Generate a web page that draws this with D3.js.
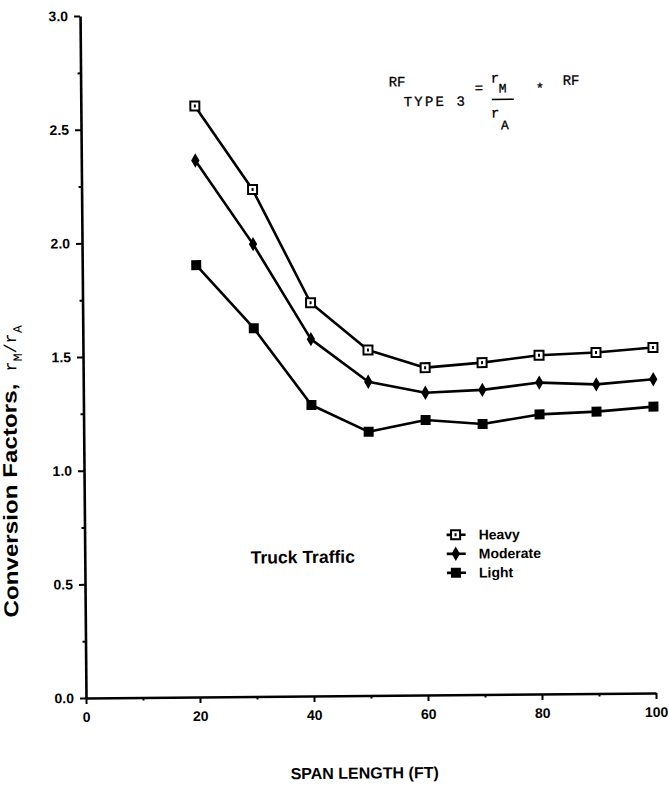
<!DOCTYPE html>
<html>
<head>
<meta charset="utf-8">
<script src="https://cdn.jsdelivr.net/npm/d3@7/dist/d3.min.js"></script>
<style>
  html, body { margin: 0; padding: 0; background: #fff; }
  svg { display: block; }
</style>
</head>
<body>
<svg id="chart" width="669" height="788"></svg>
<script>
// Span lengths (ft) and conversion factors rM/rA for each traffic level
const spans = [20, 30, 40, 50, 60, 70, 80, 90, 100];
const heavy = [2.60, 2.23, 1.73, 1.52, 1.44, 1.46, 1.49, 1.50, 1.52];
const moderate = [2.36, 1.99, 1.57, 1.38, 1.33, 1.34, 1.37, 1.36, 1.38];
const light = [1.90, 1.62, 1.28, 1.16, 1.21, 1.19, 1.23, 1.24, 1.26];

const seriesNames = ["Heavy", "Moderate", "Light"];
const xTicks = [0, 20, 40, 60, 80, 100];
const xMinorTicks = [10, 30, 50, 70, 90];
const yTicks = [0, 0.5, 1.0, 1.5, 2.0, 2.5, 3.0];
const yMinorTicks = [0.25, 0.75, 1.25, 1.75, 2.25, 2.75];

const sans = "Liberation Sans, Arial, sans-serif";
const mono = "Liberation Mono, Courier New, monospace";

const svg = d3.select("#chart");
const x = d3.scaleLinear().domain([0, 100]).range([86, 656]);
const y = d3.scaleLinear().domain([0, 3]).range([698, 16]);

// the whole plate sits at a slight tilt
const g = svg.append("g").attr("transform", "rotate(-0.5, 86, 698)");

// axes
g.append("g").attr("class", "axis").attr("transform", `translate(${x(0)},0)`)
  .call(d3.axisLeft(y).tickValues(yTicks).tickFormat(d3.format(".1f")).tickSize(6).tickSizeOuter(0).tickPadding(6));
g.append("g").attr("class", "axis minor").attr("transform", `translate(${x(0)},0)`)
  .call(d3.axisLeft(y).tickValues(yMinorTicks).tickFormat("").tickSize(3).tickSizeOuter(0));

g.append("g").attr("class", "axis").attr("transform", `translate(0,${y(0)})`)
  .call(d3.axisBottom(x).tickValues(xTicks).tickFormat(d3.format("d")).tickSize(6).tickSizeOuter(0).tickPadding(8));
g.append("g").attr("class", "axis minor").attr("transform", `translate(0,${y(0)})`)
  .call(d3.axisBottom(x).tickValues(xMinorTicks).tickFormat("").tickSize(3).tickSizeOuter(0));

g.selectAll(".minor .domain").remove();
g.selectAll(".axis .domain").attr("stroke", "#000").attr("stroke-width", 2.6);
g.selectAll(".axis .tick line").attr("stroke", "#000").attr("stroke-width", 2);
g.selectAll(".axis .tick text").attr("fill", "#000")
  .attr("font-family", sans).attr("font-weight", "bold").attr("font-size", 14);

// marker drawing
function drawMarker(sel, name) {
  if (name === "Heavy") {
    sel.append("rect").attr("x", -4.5).attr("y", -4.5).attr("width", 9).attr("height", 9)
      .attr("fill", "#fff").attr("stroke", "#000").attr("stroke-width", 2);
    sel.append("rect").attr("x", -1).attr("y", -1.5).attr("width", 2).attr("height", 3).attr("fill", "#000");
  } else if (name === "Moderate") {
    sel.append("path").attr("d", d3.symbol(d3.symbolDiamond, 60)()).attr("fill", "#000");
  } else {
    sel.append("rect").attr("x", -5).attr("y", -5).attr("width", 10).attr("height", 10).attr("fill", "#000");
  }
}

const seriesValues = { Heavy: heavy, Moderate: moderate, Light: light };
const line = d3.line().x(d => x(d[0])).y(d => y(d[1]));

seriesNames.forEach(name => {
  const pts = spans.map((s, i) => [s, seriesValues[name][i]]);
  g.append("path").datum(pts).attr("d", line)
    .attr("fill", "none").attr("stroke", "#000").attr("stroke-width", 2.6).attr("stroke-linejoin", "round");
  g.selectAll(null).data(pts).enter().append("g")
    .attr("transform", d => `translate(${x(d[0])},${y(d[1])})`)
    .each(function () { drawMarker(d3.select(this), name); });
});

// legend
const legendY = [538, 557, 576];
seriesNames.forEach((name, i) => {
  const lg = g.append("g").attr("transform", `translate(457,${legendY[i]})`);
  lg.append("line").attr("x1", -9).attr("x2", 10).attr("stroke", "#000").attr("stroke-width", 2.6);
  drawMarker(lg, name);
  lg.append("text").attr("x", 23).attr("dy", "0.35em")
    .attr("font-family", sans).attr("font-weight", "bold")
    .attr("font-size", 14).text(name);
});

// caption inside the plot
g.append("text").attr("x", 252).attr("y", 565)
  .attr("font-family", sans).attr("font-weight", "bold")
  .attr("font-size", 17.5).text("Truck Traffic");

// x axis title
g.append("text").attr("x", 364).attr("y", 781).attr("text-anchor", "middle")
  .attr("font-family", sans).attr("font-weight", "bold")
  .attr("font-size", 16).text("SPAN LENGTH (FT)");

// y axis title with rM/rA ratio
const yt = g.append("g").attr("transform", "translate(19,617) rotate(-90)");
yt.append("text").attr("font-family", sans).attr("font-weight", "bold").attr("font-size", 20)
  .attr("textLength", 234).attr("lengthAdjust", "spacingAndGlyphs").text("Conversion Factors,");
const ratio = yt.append("text").attr("x", 246).attr("font-family", mono).attr("font-size", 17);
ratio.append("tspan").text("r");
ratio.append("tspan").attr("dy", 6).attr("font-size", 13).text("M");
ratio.append("tspan").attr("dy", -6).text("/r");
ratio.append("tspan").attr("dy", 6).attr("font-size", 13).text("A");

// conversion formula
const fm = g.append("g").attr("font-family", mono).attr("font-size", 14).attr("fill", "#000")
  .attr("stroke", "#000").attr("stroke-width", 0.3);
fm.append("text").attr("x", 394).attr("y", 89).text("RF");
fm.append("text").attr("x", 409).attr("y", 109).attr("textLength", 61).attr("lengthAdjust", "spacing").text("TYPE 3");
fm.append("text").attr("x", 480).attr("y", 96).text("=");
fm.append("text").attr("x", 496).attr("y", 86).text("r");
fm.append("text").attr("x", 504).attr("y", 96).attr("font-size", 13).text("M");
fm.append("line").attr("x1", 497).attr("x2", 519).attr("y1", 103).attr("y2", 103).attr("stroke-width", 1.4);
fm.append("text").attr("x", 496).attr("y", 121).text("r");
fm.append("text").attr("x", 506).attr("y", 133).attr("font-size", 13).text("A");
fm.append("text").attr("x", 541).attr("y", 97).text("*");
fm.append("text").attr("x", 568).attr("y", 89).text("RF");
</script>
</body>
</html>
